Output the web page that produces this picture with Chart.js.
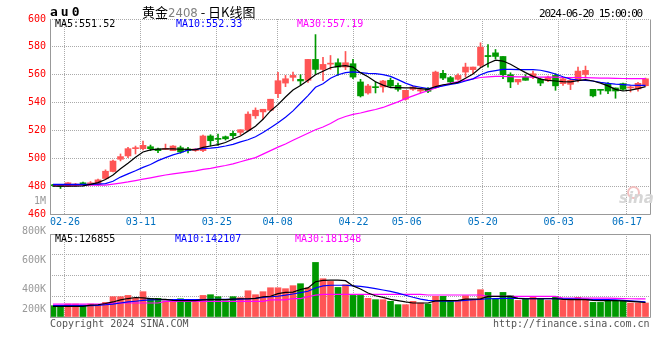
<!DOCTYPE html>
<html><head><meta charset="utf-8">
<script src="https://cdn.jsdelivr.net/npm/chart.js@4.4.1/dist/chart.umd.min.js"></script>
<style>
html,body{margin:0;padding:0;background:#fff;}
#wrap{position:relative;width:660px;height:360px;overflow:hidden;font-family:'DejaVu Sans Mono',monospace;}
.t{position:absolute;white-space:nowrap;font-size:10px;line-height:10px;}
canvas{position:absolute;left:0;}
</style></head><body>
<div id="wrap">
<canvas id="main" width="660" height="232" style="top:0;width:660px;height:232px"></canvas>
<canvas id="vol" width="660" height="94" style="top:224px;width:660px;height:94px"></canvas>
<div class="t" style="left:50px;top:5px;font-weight:bold;font-size:13px;line-height:13px;letter-spacing:3px;">au0</div>
<div class="t" style="left:142px;top:4px;font-family:'Noto Sans CJK SC',sans-serif;font-size:13px;line-height:15px;">黄金<span style="color:#808080;font-family:'Liberation Sans Narrow','DejaVu Sans Condensed',sans-serif;">2408</span> - 日K线图</div>
<div class="t" style="left:539px;top:8px;font-size:11px;line-height:11px;letter-spacing:-1.2px;">2024-06-20 15:00:00</div>
<div class="t" style="left:55px;top:19px;color:#000;">MA5:551.52</div>
<div class="t" style="left:176px;top:19px;color:#0000ff;">MA10:552.33</div>
<div class="t" style="left:297px;top:19px;color:#ff00ff;">MA30:557.19</div>
<div class="t" style="left:34px;top:196px;color:#999;">1M</div>
<div class="t" style="left:55px;top:234px;color:#000;">MA5:126855</div>
<div class="t" style="left:175px;top:234px;color:#0000ff;">MA10:142107</div>
<div class="t" style="left:295px;top:234px;color:#ff00ff;">MA30:181348</div>
<div class="t" style="left:50px;top:319px;color:#555;">Copyright 2024 SINA.COM</div>
<div class="t" style="left:493px;top:319px;color:#555;">http://finance.sina.com.cn</div>
<div style="position:absolute;left:627px;top:186px;width:9px;height:9px;border:2px solid #f3c0c0;border-radius:50%;"></div>
<div class="t" style="left:619px;top:191px;font-family:'DejaVu Sans',sans-serif;font-size:15px;line-height:15px;font-weight:bold;font-style:italic;color:#d6d6d6;">sina</div>
</div>
<script>
// ---------- data ----------
const dates = ['02-22','02-23','02-26','02-27','02-28','02-29','03-01','03-04','03-05','03-06',
'03-07','03-08','03-11','03-12','03-13','03-14','03-15','03-18','03-19','03-20',
'03-21','03-22','03-25','03-26','03-27','03-28','03-29','04-01','04-02','04-03',
'04-08','04-09','04-10','04-11','04-12','04-15','04-16','04-17','04-18','04-19',
'04-22','04-23','04-24','04-25','04-26','04-29','04-30','05-06','05-07','05-08',
'05-09','05-10','05-13','05-14','05-15','05-16','05-17','05-20','05-21','05-22',
'05-23','05-24','05-27','05-28','05-29','05-30','05-31','06-03','06-04','06-05',
'06-06','06-07','06-11','06-12','06-13','06-14','06-17','06-18','06-19','06-20'];

const openP = [481.0,481.0,480.0,480.7,482.4,481.0,481.2,485.5,490.5,499.3,
501.7,506.9,506.9,508.3,506.7,506.4,505.5,507.6,506.7,505.5,
505.5,516.0,513.8,515.5,517.9,518.6,520.2,530.5,533.3,534.5,
546.4,554.0,558.1,556.7,556.0,571.0,563.8,567.6,568.6,565.5,
567.9,554.8,546.9,550.8,551.2,556.0,552.4,542.4,549.5,548.3,
550.0,550.7,561.0,557.9,556.7,561.9,563.6,566.7,573.8,575.7,
573.1,560.0,554.8,558.3,558.3,556.7,555.7,559.5,553.6,553.1,
556.0,560.2,549.5,549.0,553.6,550.5,553.6,550.5,549.8,552.1];

const highP = [481.3,481.2,482.5,482.0,483.0,483.3,485.0,491.7,498.8,503.1,
507.9,508.8,512.4,509.5,507.4,510.2,509.1,508.8,507.9,507.0,
516.7,516.9,517.4,516.0,519.5,520.5,533.3,536.2,535.2,542.4,
561.7,559.5,561.9,560.0,571.0,588.8,572.4,573.8,571.4,576.7,
571.0,556.7,553.1,554.8,556.0,557.6,554.0,548.8,551.9,550.5,
550.7,562.6,563.1,558.8,560.7,568.3,565.5,582.9,581.7,578.1,
573.1,561.4,556.7,560.0,562.6,557.6,559.0,560.7,557.6,557.1,
565.5,566.2,549.5,549.3,554.3,550.5,554.0,551.9,554.5,557.6];

const lowP = [480.0,478.3,479.8,480.0,480.2,480.7,480.5,485.2,490.2,498.1,
500.5,503.1,506.0,505.5,504.0,506.4,505.5,503.6,503.8,505.0,
504.8,508.8,509.3,513.1,514.5,516.7,519.8,528.6,528.0,534.0,
543.6,551.4,555.5,552.4,554.5,560.7,555.7,563.8,559.5,563.6,
557.1,544.0,546.0,546.9,547.4,551.2,548.1,541.7,548.8,546.9,
547.1,550.0,556.4,553.6,556.0,558.3,560.7,565.5,565.5,571.4,
557.1,550.7,553.1,556.0,557.1,552.1,555.0,548.8,552.4,549.3,
554.8,557.6,544.0,546.0,546.4,543.1,548.8,547.6,548.1,551.7];

const closeP = [480.3,479.8,482.4,481.5,481.0,482.4,484.5,490.7,498.0,501.2,
506.9,507.1,509.3,506.9,505.5,506.6,508.8,504.5,505.5,506.7,
516.0,512.6,513.6,514.0,516.2,520.5,531.7,534.5,535.2,542.4,
555.7,557.1,559.5,555.5,571.0,563.8,567.4,568.3,565.5,568.6,
558.3,544.8,551.9,550.7,555.5,551.9,549.5,548.8,551.2,549.3,
548.1,561.9,557.6,554.8,559.5,565.5,565.5,579.8,573.0,573.1,
560.0,554.8,556.7,556.0,560.7,554.0,558.3,552.0,557.1,556.0,
562.6,563.1,544.8,548.8,548.3,548.3,549.5,551.0,553.8,557.1];

const ma5 = [480.0,480.0,480.0,480.0,480.2,481.3,482.5,484.8,488.0,492.5,
496.5,500.8,504.5,506.0,506.6,506.8,506.7,506.5,506.4,506.0,
507.8,508.8,509.8,511.3,513.8,516.0,519.5,523.0,528.0,534.0,
538.5,544.0,549.0,552.3,556.0,560.0,562.5,565.0,566.0,566.5,
565.5,561.5,558.5,555.0,552.5,550.8,550.7,550.5,550.5,550.0,
549.5,551.5,552.8,553.5,554.5,557.5,560.5,565.0,568.0,570.5,
569.8,567.5,564.5,561.5,558.8,556.8,556.0,555.5,555.0,554.8,
555.8,556.5,555.5,554.0,552.0,549.5,548.3,549.0,550.0,551.5];

const ma10 = [481.2,481.2,481.2,481.2,481.2,481.3,481.5,481.8,483.5,486.5,
488.8,491.0,493.5,495.5,498.3,500.5,502.4,504.0,505.8,506.5,
507.0,507.3,507.8,508.8,510.0,511.8,513.3,515.5,518.5,522.0,
525.5,529.5,534.0,539.5,545.0,551.0,553.5,557.5,560.0,561.5,
562.0,561.5,561.0,560.8,560.0,558.8,556.5,554.0,552.0,551.0,
550.0,550.8,552.0,553.0,554.0,555.5,557.0,560.0,562.0,563.0,
563.8,563.8,563.6,563.6,563.6,563.2,562.0,560.5,558.5,556.8,
556.2,556.0,555.5,554.5,553.8,553.2,552.9,552.5,552.3,552.3];

const ma30 = [480.7,480.7,480.7,480.7,480.7,480.7,480.7,480.7,481.5,482.2,
483.0,484.0,485.0,486.0,487.0,488.0,488.8,489.5,490.3,491.0,
492.0,492.8,493.8,494.8,496.0,497.5,499.0,500.5,503.0,505.5,
508.0,510.3,513.0,515.5,518.0,520.5,522.5,525.0,528.0,530.0,
531.5,532.5,533.8,535.0,536.5,538.5,540.5,542.8,544.8,546.8,
548.5,550.5,552.3,553.8,555.0,556.0,557.0,558.0,558.5,558.8,
558.8,558.6,558.5,558.5,558.3,558.3,558.3,558.2,558.0,558.0,
558.0,557.9,557.8,557.6,557.5,557.4,557.3,557.2,557.2,557.2];

// volume in thousands of lots
const volumeK = [109,109,125,125,115,125,119,141,196,196,
208,183,244,180,180,157,157,176,157,141,
208,215,196,157,196,186,253,215,244,282,
282,273,302,321,282,526,369,343,285,311,
208,208,180,167,167,151,119,119,151,135,
125,199,199,151,151,205,167,263,237,176,
237,205,160,176,199,176,160,199,160,160,
189,176,141,141,151,151,151,135,135,135];

const volMa5K = [102,102,102,102,102,115,118,130,145,165,
178,188,185,178,173,170,160,157,157,157,
165,167,167,167,172,176,176,180,195,200,
225,237,240,265,280,340,353,355,355,350,
300,270,231,205,189,170,157,145,135,135,
135,155,157,157,160,173,173,175,199,199,
199,199,180,176,176,176,176,176,170,167,
167,167,160,157,157,157,155,150,145,140];

const volMa10K = [109,109,109,109,109,110,112,118,125,135,
145,152,160,165,167,167,167,167,167,167,
168,170,170,170,170,172,175,180,188,195,
200,210,222,235,248,280,300,306,306,306,
300,295,285,273,260,247,230,210,190,172,
160,155,152,152,155,160,167,170,176,178,
180,180,180,178,178,178,178,178,176,175,
173,170,168,167,167,165,160,155,150,145];

const volMa30K = [125,125,125,125,125,125,125,125,135,135,
135,135,135,135,135,150,150,150,150,150,
150,150,150,150,150,150,150,150,150,165,
165,165,178,178,195,210,218,218,218,218,
218,218,218,218,218,218,218,218,218,218,
212,212,212,212,212,212,212,212,198,198,
198,198,198,198,198,198,198,198,182,182,
182,182,182,182,182,180,178,176,175,175];

const tickDates = ['02-26','03-11','03-25','04-08','04-22','05-06','05-20','06-03','06-17'];
const priceTicks = [460,480,500,520,540,560,580,600];
const volGridK = [0,200,400,600,800];
const volTickK = [200,400,600,800];
const volTickLabels = ['200K','400K','600K','800K'];

// ---------- layout / style ----------
const RED = '#ff5555', GREEN = '#009900';
const GRID = '#aaaaaa', FRAME = '#999999';
const candleColors = closeP.map((c, i) => c >= openP[i] ? RED : GREEN);

Chart.defaults.font.family = "'DejaVu Sans Mono', monospace";
Chart.defaults.font.size = 10;
Chart.defaults.animation = false;

// Sina places date gridlines on a slightly different pitch than the candles
const gridValue = k => k * 80 / 79 - 0.43;
const setDateTicks = s => { s.ticks = tickDates.map(d => ({ value: gridValue(dates.indexOf(d)) })); };
const noEdgePad = s => { s.paddingTop = 0; s.paddingBottom = 0; s.paddingLeft = 0; s.paddingRight = 0; };

const framePlugin = (drawTop) => ({
  id: 'frame',
  afterDatasetsDraw(chart) {
    const { ctx, chartArea: a } = chart;
    const L = Math.round(a.left) + 0.5, R = Math.round(a.right) + 0.5;
    const T = Math.round(a.top) + 0.5, B = Math.round(a.bottom) + 0.5;
    ctx.save();
    ctx.strokeStyle = FRAME; ctx.lineWidth = 1;
    ctx.beginPath();
    if (drawTop) { ctx.moveTo(L, T); ctx.lineTo(R, T); }
    ctx.moveTo(L, T); ctx.lineTo(L, B); ctx.lineTo(R, B); ctx.lineTo(R, T);
    ctx.stroke();
    ctx.restore();
  }
});

const lineDs = (arr, color) => ({
  type: 'line', data: arr.map((v, i) => ({ x: i, y: v })),
  borderColor: color, borderWidth: 1.2, pointRadius: 0, tension: 0, order: 0
});

const xBase = () => ({ type: 'linear', min: -0.4, max: 79.6, offset: false });

new Chart(document.getElementById('main'), {
  type: 'bar',
  data: {
    datasets: [
      lineDs(ma5, '#000000'),
      lineDs(ma10, '#0000ff'),
      lineDs(ma30, '#ff00ff'),
      { label: 'body', data: openP.map((o, i) => ({ x: i, y: [o, closeP[i]] })),
        backgroundColor: candleColors, barThickness: 6, grouped: false, minBarLength: 1, order: 1 },
      { label: 'wick', data: lowP.map((l, i) => ({ x: i, y: [l, highP[i]] })),
        backgroundColor: candleColors, barThickness: 1, grouped: false, order: 2 }
    ]
  },
  options: {
    responsive: false, animation: false, events: [],
    layout: { padding: { top: 19, right: 10, left: 0, bottom: 0 } },
    plugins: { legend: { display: false }, tooltip: { enabled: false } },
    scales: {
      x: Object.assign(xBase(), {
        afterBuildTicks: setDateTicks,
        afterFit: s => { s.height = 18; noEdgePad(s); },
        ticks: { callback: (v, idx) => tickDates[idx], color: '#0070c0', padding: 2,
                 maxRotation: 0, autoSkip: false, font: { size: 10 } },
        grid: { color: GRID, drawTicks: false, offset: false },
        border: { display: false, dash: [1, 1] }
      }),
      y: {
        min: 460, max: 600,
        afterBuildTicks: s => { s.ticks = priceTicks.map(v => ({ value: v })); },
        afterFit: s => { s.width = 50; noEdgePad(s); },
        ticks: { color: '#ff0000', padding: 4, autoSkip: false, font: { size: 10 } },
        grid: { color: GRID, drawTicks: false },
        border: { display: false, dash: [1, 1] }
      }
    }
  },
  plugins: [framePlugin(false)]
});

// volume axis labels sit at odd offsets from their gridlines in the reference
const VOL_LABEL_NUDGE_PX = [13, 14, 6, -3];
const VOL_K_PER_PX = 800 / 83;

new Chart(document.getElementById('vol'), {
  type: 'bar',
  data: {
    datasets: [
      lineDs(volMa5K, '#000000'),
      lineDs(volMa10K, '#0000ff'),
      lineDs(volMa30K, '#ff00ff'),
      { label: 'volume', data: volumeK.map((v, i) => ({ x: i, y: v })),
        backgroundColor: candleColors, barThickness: 6, grouped: false, order: 1 }
    ]
  },
  options: {
    responsive: false, animation: false, events: [],
    layout: { padding: { top: 10, right: 10, left: 0, bottom: 1 } },
    plugins: { legend: { display: false }, tooltip: { enabled: false } },
    scales: {
      x: Object.assign(xBase(), {
        afterBuildTicks: setDateTicks,
        afterFit: s => { s.height = 0; noEdgePad(s); },
        ticks: { display: false },
        grid: { color: GRID, drawTicks: false, offset: false },
        border: { display: false, dash: [1, 1] }
      }),
      y: {
        min: 0, max: 800, weight: 1,
        afterBuildTicks: s => { s.ticks = volGridK.map(v => ({ value: v })); },
        afterFit: s => { s.width = 0; noEdgePad(s); },
        ticks: { display: false },
        grid: { color: GRID, drawTicks: false },
        border: { display: false, dash: [1, 1] }
      },
      yl: {
        position: 'left', min: 0, max: 800, weight: 0,
        afterBuildTicks: s => { s.ticks = volTickK.map((v, k) => ({ value: v - VOL_LABEL_NUDGE_PX[k] * VOL_K_PER_PX })); },
        afterFit: s => { s.width = 50; noEdgePad(s); },
        ticks: { callback: (v, idx) => volTickLabels[idx], color: '#999999', padding: 4, autoSkip: false, font: { size: 10 } },
        grid: { display: false, drawTicks: false },
        border: { display: false }
      }
    }
  },
  plugins: [framePlugin(true)]
});
</script>
</body></html>
